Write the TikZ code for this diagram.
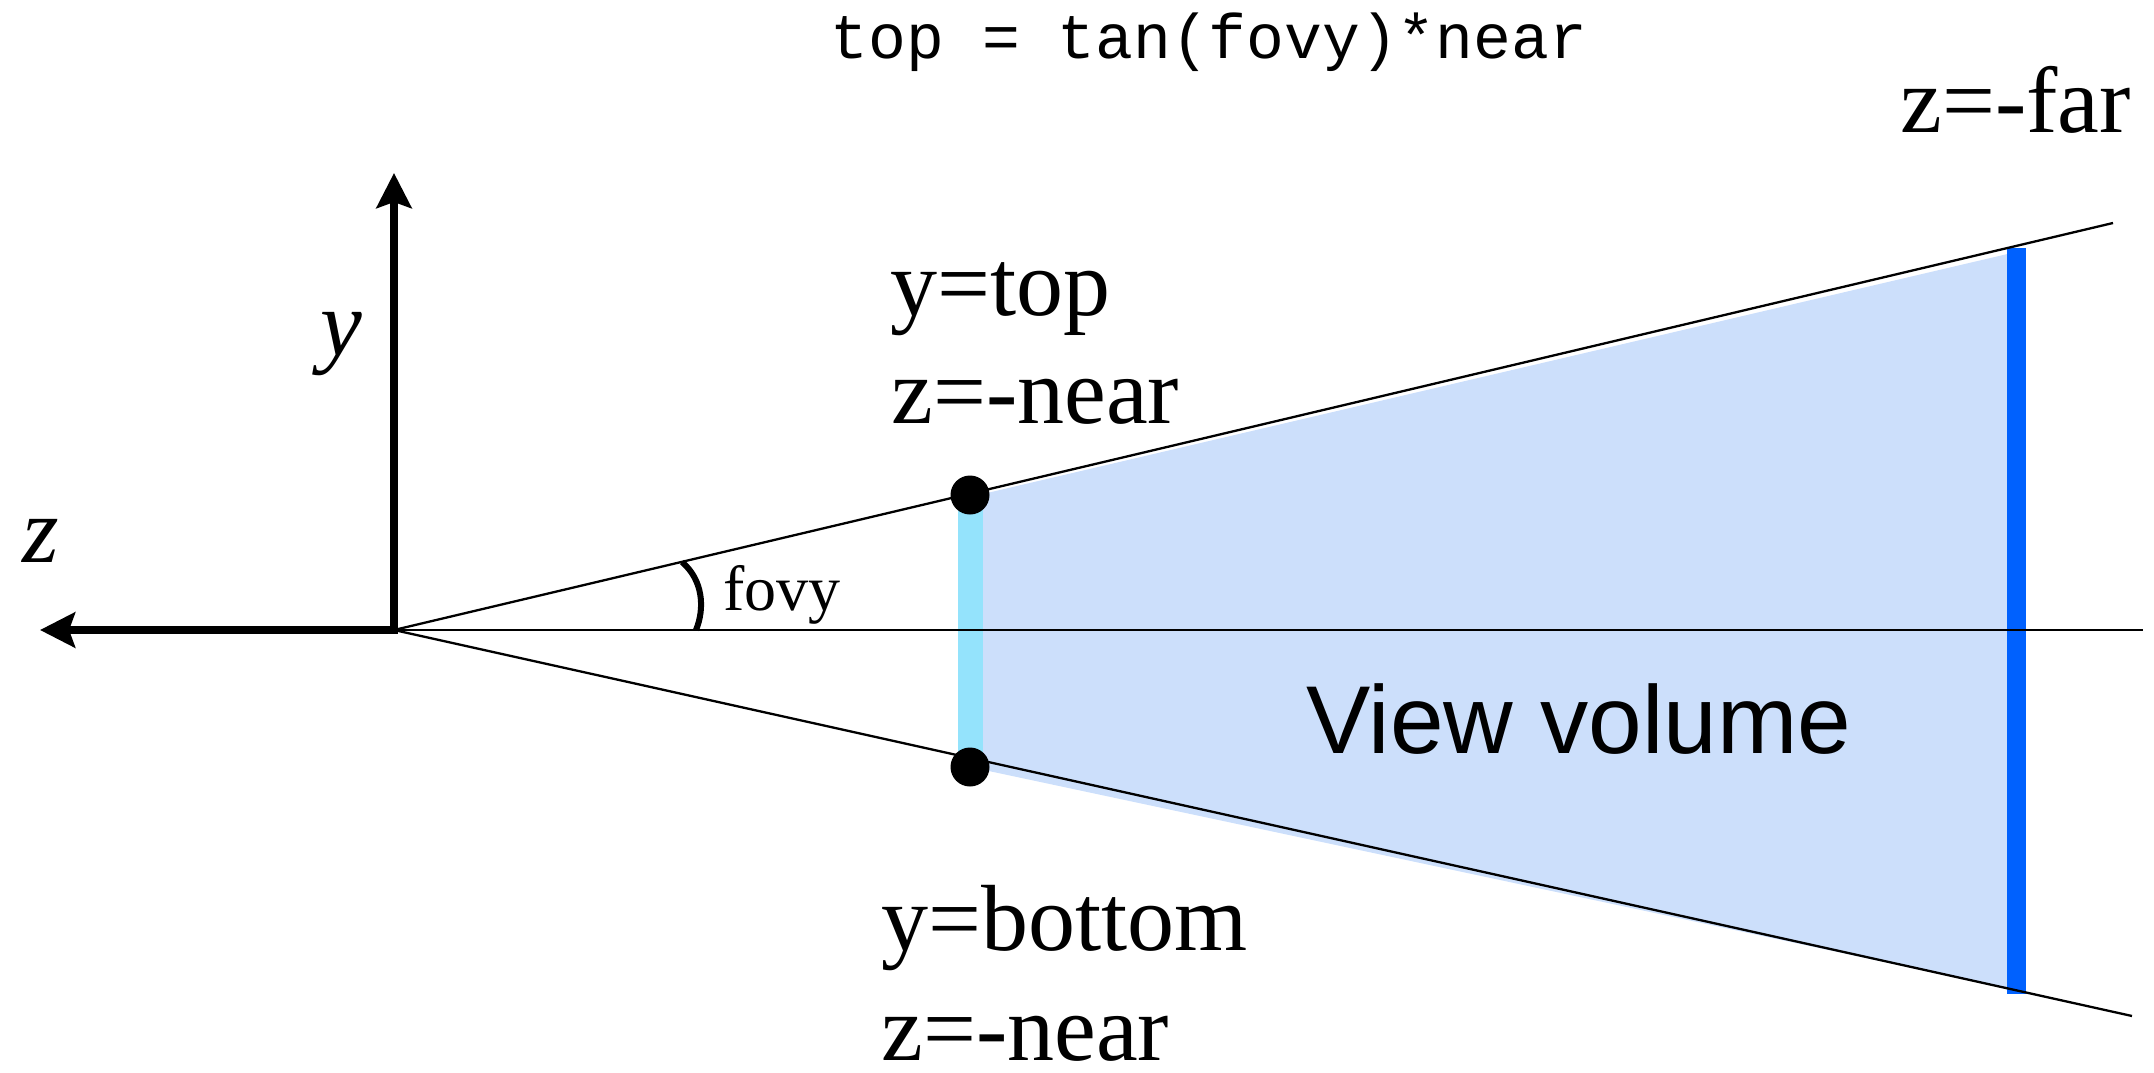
\documentclass[tikz,border=0pt]{standalone}
\usepackage{fontspec}
\setmainfont{Liberation Serif}
\setsansfont{Liberation Sans}
\setmonofont{Liberation Mono}
\usetikzlibrary{arrows.meta}
\definecolor{volfill}{HTML}{CCDFFB}
\definecolor{nearbar}{HTML}{94E3FC}
\definecolor{farbar}{HTML}{0061FE}
\begin{document}
\begin{tikzpicture}[x=0.5pt,y=-0.5pt,
  thinline/.style={line width=1.15pt},
  axisline/.style={line width=4pt,
    arrows={Stealth[length=17.5pt,width=17.5pt,inset=3pt]-Stealth[length=17.5pt,width=17.5pt,inset=3pt]}},
  big/.style={inner sep=0pt, anchor=base west, font=\fontsize{47}{56}\selectfont},
  small/.style={inner sep=0pt, anchor=base west, font=\fontsize{32}{38}\selectfont},
  dot/.style={circle, fill=black, minimum size=19.5pt, inner sep=0pt}]
\useasboundingbox (0,0) rectangle (2154,1072);
% key points
\coordinate (origin) at (394,630);
\coordinate (ytip) at (394,173);
\coordinate (ztip) at (40,630);
\coordinate (upend) at (2113,223);
\coordinate (loend) at (2132,1016);
\coordinate (hend) at (2143,630);
\coordinate (ftop) at (2016.5,248);
\coordinate (fbot) at (2016.5,994);
\coordinate (ntopc) at (970,495);
\coordinate (nbotc) at (970,767);
% view volume fill
\fill[volfill] (970,497) -- (2016,252) -- (2016,990) -- (970,767) -- cycle;
% near and far planes
\draw[nearbar, line width=12.5pt] (ntopc) -- (nbotc);
\draw[farbar, line width=9.5pt] (ftop) -- (fbot);
% frustum lines
\draw[thinline] (origin) -- (upend);
\draw[thinline] (origin) -- (loend);
\draw[thinline] (origin) -- (hend);
% axes
\draw[axisline] (ztip) -- (origin) -- (ytip);
% fovy arc
\coordinate (arcA) at (682,562);
\coordinate (arcB) at (696,630);
\draw[line width=3pt] (arcA) .. controls (703,580) and (705,608) .. (arcB);
% dots
\node[dot] (ntop) at (ntopc) {};
\node[dot] (nbot) at (nbotc) {};
% labels
\node[inner sep=0pt, anchor=base, font=\fontsize{31.5}{36}\selectfont\ttfamily] (formula) at (1209,58) {top = tan(fovy)*near};
\node[big] (zfar) at (1900,132) {z=-far};
\node[big] (ytop) at (890,315) {y=top};
\node[big] (znear1) at (891,423) {z=-near};
\node[big] (ybot) at (881,950) {y=bottom};
\node[big] (znear2) at (881,1060) {z=-near};
\node[inner sep=0pt, anchor=base west, font=\fontsize{48.2}{57}\selectfont\sffamily] (vv) at (1306,753) {View volume};
\node[small] (fovy) at (723,610) {fovy};
\node[big, font=\fontsize{47}{56}\selectfont\itshape] (ylab) at (320,355) {y};
\node[big, font=\fontsize{47}{56}\selectfont\itshape] (zlab) at (22,562) {z};
\end{tikzpicture}
\end{document}
